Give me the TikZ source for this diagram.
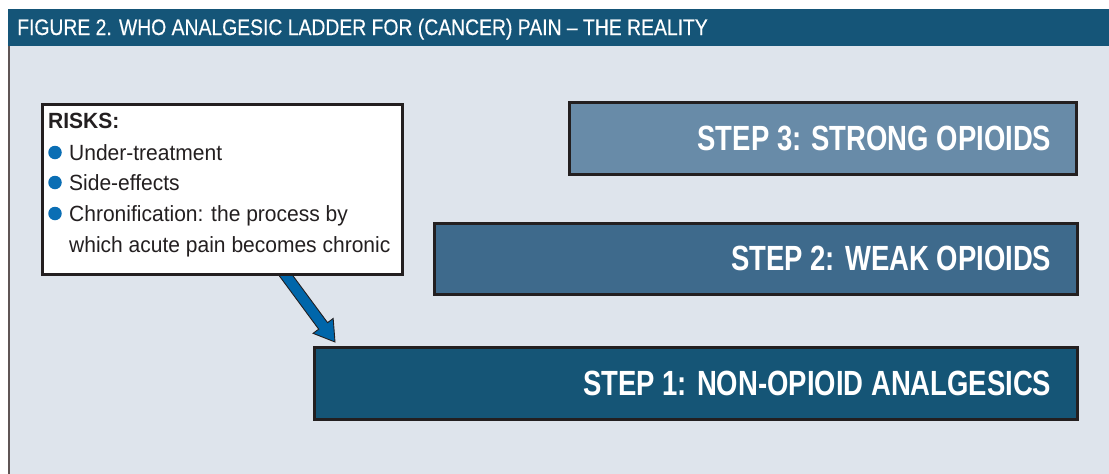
\documentclass[tikz,border=0pt]{standalone}
\usepackage{fontspec}
\setmainfont{Liberation Sans}
\newfontfamily\headfont[FakeStretch=0.86,FakeBold=0.35]{Liberation Sans}
\newfontfamily\stepfont[FakeStretch=0.785]{Liberation Sans}
\newfontfamily\riskfont[FakeStretch=0.955]{Liberation Sans}
\usetikzlibrary{calc}
\definecolor{headblue}{RGB}{21,85,120}
\definecolor{panelbg}{RGB}{222,228,236}
\definecolor{stepone}{RGB}{21,85,118}
\definecolor{steptwo}{RGB}{62,106,140}
\definecolor{stepthree}{RGB}{104,139,168}
\definecolor{bordergray}{RGB}{35,31,32}
\definecolor{edgegray}{RGB}{95,85,85}
\definecolor{arrowblue}{RGB}{0,102,170}
\definecolor{bulletblue}{RGB}{10,110,180}
\definecolor{textdark}{RGB}{35,31,32}
\pgfdeclarelayer{panel}
\pgfdeclarelayer{under}
\pgfsetlayers{panel,under,main}
\tikzset{
  headbar/.style={fill=headblue, inner sep=0pt, anchor=north west},
  headtext/.style={font=\headfont\fontsize{22.5}{26}\selectfont, text=white, inner sep=0pt, anchor=base west},
  stepbox/.style={draw=bordergray, line width=2.5pt, inner sep=0pt, anchor=north west},
  steptext/.style={font=\stepfont\bfseries\fontsize{35}{40}\selectfont, text=white, inner sep=0pt, anchor=east},
  riskbox/.style={draw=bordergray, fill=white, line width=2.5pt, inner sep=0pt, anchor=north west},
  risktext/.style={font=\riskfont\fontsize{22}{26}\selectfont, text=textdark, inner sep=0pt, anchor=base west},
  bulletdot/.style={circle, fill=bulletblue, minimum size=13.5pt, inner sep=0pt},
  bigarrow/.style={fill=arrowblue, draw=bordergray, line width=0.9pt, line join=miter}
}
\begin{document}
\begin{tikzpicture}[x=1pt,y=-1pt]
\useasboundingbox (0,0) rectangle (1109,474);
\begin{pgfonlayer}{panel}
  \fill[panelbg] (8,46) rectangle (1109,474);
  \draw[edgegray, line width=1.5pt] (8.75,46) -- (8.75,474);
\end{pgfonlayer}
% header
\node[headbar, minimum width=1101pt, minimum height=37pt] (head) at (8,9) {};
\node[headtext] (title) at (17,35) {FIGURE 2. WHO ANALGESIC LADDER FOR (CANCER) PAIN – THE REALITY};
% steps
\node[stepbox, fill=stepthree, minimum width=507pt, minimum height=72pt] (s3) at (568,101) {};
\node[stepbox, fill=steptwo, minimum width=643pt, minimum height=71pt] (s2) at (433,222) {};
\node[stepbox, fill=stepone, minimum width=763pt, minimum height=72pt] (s1) at (313,346) {};
\node[steptext] (t3) at ($(s3.east)+(-26,0)$) {STEP 3: STRONG OPIOIDS};
\node[steptext] (t2) at ($(s2.east)+(-27,0)$) {STEP 2: WEAK OPIOIDS};
\node[steptext] (t1) at ($(s1.east)+(-27,0)$) {STEP 1: NON-OPIOID ANALGESICS};
% risks box
\node[riskbox, minimum width=360pt, minimum height=170pt] (risks) at (41,103) {};
\node[risktext, font=\riskfont\bfseries\fontsize{22}{26}\selectfont] (rk) at (48,128) {RISKS:};
\node[risktext] (l1) at (69,160) {Under-treatment};
\node[risktext] (l2) at (69,190) {Side-effects};
\node[risktext] (l3) at (69,221) {Chronification: the process by};
\node[risktext] (l4) at (69,252) {which acute pain becomes chronic};
\node[bulletdot] (b1) at (55,152.5) {};
\node[bulletdot] (b2) at (55,182.5) {};
\node[bulletdot] (b3) at (55,213.5) {};
% arrow
\begin{pgfonlayer}{under}
  \coordinate (tail) at ($(risks.south west)+(239,-8)$);
  \coordinate (tip) at ($(s1.north west)+(22,-4)$);
  \coordinate (neck) at ($(tip)!20pt!(tail)$);
  \draw[bigarrow]
    ($(tail)!5.5pt!90:(tip)$) -- ($(neck)!5.5pt!-90:(tail)$) --
    ($(neck)!12.5pt!-90:(tail)$) -- (tip) --
    ($(neck)!12.5pt!90:(tail)$) -- ($(neck)!5.5pt!90:(tail)$) --
    ($(tail)!5.5pt!-90:(tip)$) -- cycle;
\end{pgfonlayer}
\end{tikzpicture}
\end{document}
